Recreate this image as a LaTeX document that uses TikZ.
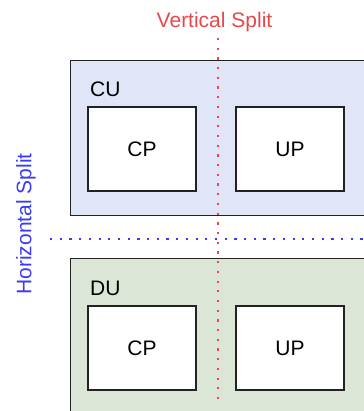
\documentclass[tikz,border=0pt]{standalone}
\usepackage{fontspec}
\setmainfont{Liberation Sans}
\definecolor{cufill}{HTML}{E0E6F8}
\definecolor{dufill}{HTML}{DBE6D7}
\definecolor{vred}{HTML}{E84848}
\definecolor{hblue}{HTML}{3B3BF5}
\definecolor{edge}{HTML}{222222}
\begin{document}
\begin{tikzpicture}[x=1pt,y=1pt,
  lbl/.style={font=\fontsize{21}{25}\selectfont, inner sep=0pt},
  outerbox/.style={draw=edge, line width=1.3pt, inner sep=0pt, anchor=north west},
  innerbox/.style={draw=edge, fill=white, line width=1.3pt, minimum width=108pt, minimum height=84pt, inner sep=0pt, font=\fontsize{21}{25}\selectfont},
  dotline/.style={line width=2.2pt, dash pattern=on 2.2pt off 7.5pt}
]
\useasboundingbox (0,0) rectangle (363,-411);
% outer boxes
\node[outerbox, fill=cufill, minimum width=310pt, minimum height=155pt] (cu) at (70,-60) {};
\node[outerbox, fill=dufill, minimum width=310pt, minimum height=170pt] (du) at (70,-258) {};
% labels
\node[lbl, anchor=west] (culbl) at (90,-89) {CU};
\node[lbl, anchor=west] (dulbl) at (90,-288) {DU};
% inner boxes
\node[innerbox] (cucp) at (142,-149) {CP};
\node[innerbox] (cuup) at (290,-149) {UP};
\node[innerbox] (ducp) at (142,-348) {CP};
\node[innerbox] (duup) at (290,-348) {UP};
% split labels
\node[lbl, text=vred] (vs) at (214.5,-22) {Vertical Split};
\node[lbl, text=hblue, rotate=90] (hs) at (26,-224) {Horizontal Split};
% split lines
\coordinate (vtop) at (218,-38);
\coordinate (vbot) at (218,-405);
\coordinate (hl) at (50,-239);
\coordinate (hr) at (368,-239);
\draw[dotline, vred] (vtop) -- (vbot);
\draw[dotline, hblue] (hl) -- (hr);
\end{tikzpicture}
\end{document}
